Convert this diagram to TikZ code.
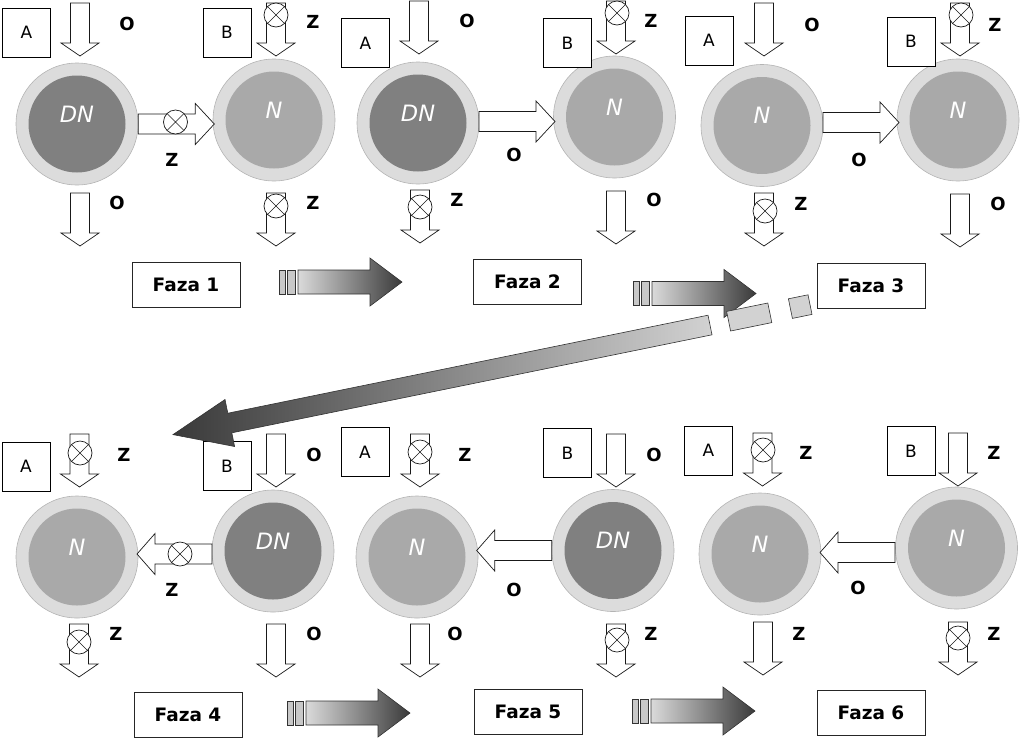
\documentclass[tikz,border=0pt]{standalone}
\usepackage{fontspec}
\setmainfont{DejaVu Sans}
\usetikzlibrary{calc}
\definecolor{ring}{HTML}{DCDCDC}
\definecolor{ringline}{HTML}{B4B4B4}
\definecolor{dncol}{HTML}{808080}
\definecolor{ncol}{HTML}{A9A9A9}
\definecolor{shlight}{HTML}{DADADA}
\definecolor{shdark}{HTML}{3A3A3A}
\definecolor{piece}{HTML}{D2D2D2}
\definecolor{barcol}{HTML}{C8C8C8}
\newcommand{\mkcirc}[4]{%
  \node[outerc] (#1) at (#2) {};
  \node[#3] (#1-in) at (#1.center) {};
  \node[ctext] (#1-t) at ([yshift=10pt]#1.center) {#4};}
\tikzset{
 outerc/.style={circle, fill=ring, draw=ringline, line width=0.6pt, minimum size=122pt, inner sep=0pt},
 dninner/.style={circle, fill=dncol, minimum size=97pt, inner sep=0pt},
 ninner/.style={circle, fill=ncol, minimum size=97pt, inner sep=0pt},
 ctext/.style={text=white, inner sep=0pt, font=\fontsize{22.5}{26}\selectfont\itshape},
 lbox/.style={draw=black, line width=0.7pt, fill=white, minimum width=48pt, minimum height=49pt, inner sep=0pt, font=\fontsize{17}{20}\selectfont},
 fbox/.style={draw=black!85, line width=0.8pt, fill=white, minimum width=108pt, minimum height=45pt, inner sep=0pt, font=\fontsize{18.5}{22}\selectfont\bfseries},
 lab/.style={font=\fontsize{18}{21}\selectfont\bfseries, inner sep=0pt},
 blk/.style={draw=black!90, line width=0.7pt, fill=white},
 pics/downarr/.style={code={\draw[blk] (-9.5,0)--(9.5,0)--(9.5,40)--(19,40)--(0,53)--(-19,40)--(-9.5,40)--cycle;}},
 pics/rightarr/.style={code={\draw[blk] (0,-10)--(57,-10)--(57,-20.5)--(76,0)--(57,20.5)--(57,10)--(0,10)--cycle;}},
 pics/leftarr/.style={code={\draw[blk] (0,-10)--(-57,-10)--(-57,-20.5)--(-75,0)--(-57,20.5)--(-57,10)--(0,10)--cycle;}},
 pics/valve/.style={code={\draw[blk] (0,0) circle[radius=12pt]; \draw[black!90,line width=0.6pt] (-8.5,-8.5)--(8.5,8.5) (-8.5,8.5)--(8.5,-8.5);}},
 pics/phasearr/.style={code={
   \draw[fill=barcol, draw=black!80, line width=0.6pt] (0,-12) rectangle (6,12) (8,-12) rectangle (16,12);
   \shade[left color=shlight, right color=shdark, draw=black!80, line width=0.6pt] (19,-12)--(91,-12)--(91,-24)--(123,0)--(91,24)--(91,12)--(19,12)--cycle;}},
}
\begin{document}
\begin{tikzpicture}[x=1pt,y=-1pt]
\useasboundingbox (0,0) rectangle (1024,753);
% ---------- Phase 1 ----------
\mkcirc{c1a}{77,124}{dninner}{DN}
\mkcirc{c1b}{274,120}{ninner}{N}
\node[lbox] (a1) at (26.5,32.5) {A};
\node[lbox] (b1) at (227,32.5) {B};
\pic at (80,3) {downarr};
\pic at (276,3) {downarr};
\pic at (276,15) {valve};
\pic at (c1a.east) {rightarr};
\pic at ($(c1a.east)!0.5!(c1b.west)$) {valve};
\pic at (80,193) {downarr};
\pic at (276,193) {downarr};
\pic at (276,206) {valve};
\node[lab] (l1) at (127,24) {O};
\node[lab] (l2) at (313,22) {Z};
\node[lab] (l3) at (172,160) {Z};
\node[lab] (l4) at (117,203) {O};
\node[lab] (l5) at (313,203) {Z};
\node[fbox] (f1) at (186,284.5) {Faza 1};
\pic at (279,282) {phasearr};
% ---------- Phase 2 ----------
\mkcirc{c2a}{418,123}{dninner}{DN}
\mkcirc{c2b}{614.5,117}{ninner}{N}
\node[lbox] (a2) at (365.5,43) {A};
\node[lbox] (b2) at (567.5,43) {B};
\pic at (419,1) {downarr};
\pic at (616,1) {downarr};
\pic at (617,13) {valve};
\pic at (479,121.5) {rightarr};
\pic at (420,190) {downarr};
\pic at (420,207) {valve};
\pic at (616,191) {downarr};
\node[lab] (l6) at (467,21) {O};
\node[lab] (l7) at (651,21) {Z};
\node[lab] (l8) at (514,155) {O};
\node[lab] (l9) at (457,200) {Z};
\node[lab] (l10) at (654,200) {O};
\node[fbox] (f2) at (527.5,282) {Faza 2};
\pic at (633,293.5) {phasearr};
% ---------- Phase 3 ----------
\mkcirc{c3a}{762,125.5}{ninner}{N}
\mkcirc{c3b}{958,120}{ninner}{N}
\node[lbox] (a3) at (709,40.5) {A};
\node[lbox] (b3) at (911,41.5) {B};
\pic at (764,3) {downarr};
\pic at (960,3) {downarr};
\pic at (961,15) {valve};
\pic at (823,122.5) {rightarr};
\pic at (764,193) {downarr};
\pic at (765,211) {valve};
\pic at (960,194) {downarr};
\node[lab] (l11) at (812,25) {O};
\node[lab] (l12) at (995,25) {Z};
\node[lab] (l13) at (859,160) {O};
\node[lab] (l14) at (801,204) {Z};
\node[lab] (l15) at (998,204) {O};
\node[fbox] (f3) at (871,285.5) {Faza 3};
% broken pieces
\draw[fill=piece, draw=black!80, line width=0.6pt] (726.6,311.4)--(767.8,303)--(771.8,322.6)--(730.6,331)--cycle;
\draw[fill=piece, draw=black!80, line width=0.6pt] (788.4,298.8)--(808,294.8)--(812,314.4)--(792.4,318.4)--cycle;
% ---------- Phase 4 ----------
\mkcirc{c4a}{77,557}{ninner}{N}
\mkcirc{c4b}{273,551}{dninner}{DN}
\node[lbox] (a4) at (26,466.5) {A};
\node[lbox] (b4) at (227,466) {B};
\pic at (79.5,434) {downarr};
\pic at (80,453) {valve};
\pic at (276,434) {downarr};
\pic at (212,554) {leftarr};
\pic at (180,554) {valve};
\pic at (79,624) {downarr};
\pic at (79,642) {valve};
\pic at (276,624) {downarr};
\node[lab] (l16) at (124,455) {Z};
\node[lab] (l17) at (314,455) {O};
\node[lab] (l18) at (172,590) {Z};
\node[lab] (l19) at (116,634) {Z};
\node[lab] (l20) at (314,634) {O};
\node[fbox] (f4) at (188,715) {Faza 4};
\pic at (287,713) {phasearr};
% ---------- Phase 5 ----------
\mkcirc{c5a}{417,557}{ninner}{N}
\mkcirc{c5b}{613,550.5}{dninner}{DN}
\node[lbox] (a5) at (365,452) {A};
\node[lbox] (b5) at (567.5,453) {B};
\pic at (420,434) {downarr};
\pic at (420,452) {valve};
\pic at (616,434) {downarr};
\pic at (c5b.west) {leftarr};
\pic at (420,624) {downarr};
\pic at (616,624) {downarr};
\pic at (617,640) {valve};
\node[lab] (l21) at (465,455) {Z};
\node[lab] (l22) at (654,455) {O};
\node[lab] (l23) at (514,590) {O};
\node[lab] (l24) at (455,634) {O};
\node[lab] (l25) at (651,634) {Z};
\node[fbox] (f5) at (528,711.5) {Faza 5};
\pic at (632,711) {phasearr};
% ---------- Phase 6 ----------
\mkcirc{c6a}{760,554}{ninner}{N}
\mkcirc{c6b}{956.5,548}{ninner}{N}
\node[lbox] (a6) at (708.5,450.5) {A};
\node[lbox] (b6) at (911,451) {B};
\pic at (762.5,433) {downarr};
\pic at (763,450) {valve};
\pic at (958,433) {downarr};
\pic at (895,552.5) {leftarr};
\pic at (763,622) {downarr};
\pic at (958,622) {downarr};
\pic at (958,638) {valve};
\node[lab] (l26) at (806,453) {Z};
\node[lab] (l27) at (994,453) {Z};
\node[lab] (l28) at (858,588) {O};
\node[lab] (l29) at (799,634) {Z};
\node[lab] (l30) at (994,634) {Z};
\node[fbox] (f6) at (871,712.5) {Faza 6};
% ---------- big return arrow ----------
\shade[left color=shdark, right color=piece, draw=black!80, line width=0.6pt]
  (173,434.6) -- (225,399.5) -- (227.8,413.2) -- (708,315.2) -- (712,334.8) -- (231.8,432.8) -- (234.6,446.5) -- cycle;
\end{tikzpicture}
\end{document}
